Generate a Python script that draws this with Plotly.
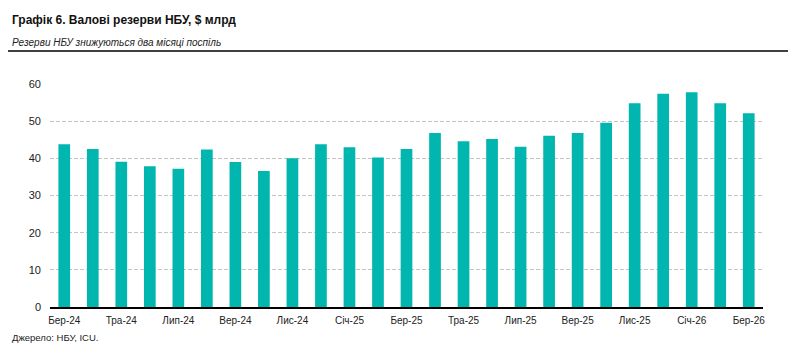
import plotly.graph_objects as go

months = ["Бер-24", "Кві-24", "Тра-24", "Чер-24", "Лип-24", "Сер-24", "Вер-24", "Жов-24",
          "Лис-24", "Гру-24", "Січ-25", "Лют-25", "Бер-25", "Кві-25", "Тра-25", "Чер-25",
          "Лип-25", "Сер-25", "Вер-25", "Жов-25", "Лис-25", "Гру-25", "Січ-26", "Лют-26", "Бер-26"]
reserves = [43.8, 42.5, 39.1, 37.9, 37.2, 42.4, 39.0, 36.6, 40.0, 43.8, 43.0, 40.2,
            42.5, 46.8, 44.6, 45.2, 43.1, 46.1, 46.8, 49.6, 54.8, 57.4, 57.8, 54.8, 52.1]
tick_labels = months[::2]
y_ticks = [0, 10, 20, 30, 40, 50, 60]

title = "Графік 6. Валові резерви НБУ, $ млрд"
subtitle = "Резерви НБУ знижуються два місяці поспіль"
source = "Джерело: НБУ, ICU."

FONT = "Liberation Sans Narrow, Arial Narrow, Liberation Sans, Arial, sans-serif"
OFF = 8  # page body margin
W, H = 796 - OFF, 362 - OFF
# absolute page coordinates of plot area
PL, PR, PT, PB = 50, 763, 84, 307.5
L, R, T, B = PL - OFF, W - (PR - OFF), PT - OFF, H - (PB - OFF)
PW, PH = W - L - R, H - T - B

def px(x):
    return (x - OFF - L) / PW

def py(y):
    return (PB - y) / PH

fig = go.Figure(go.Bar(
    x=list(range(len(months))), y=reserves,
    marker=dict(color="#00b6ae", line=dict(width=0)),
    hoverinfo="y",
))

fig.update_layout(
    width=W, height=H,
    margin=dict(l=L, r=R, t=T, b=B, pad=0),
    paper_bgcolor="white", plot_bgcolor="white",
    bargap=0.59,
    showlegend=False,
    font=dict(family=FONT, size=10, color="#222"),
    xaxis=dict(
        range=[-0.5, len(months) - 0.5],
        tickmode="array",
        tickvals=list(range(0, len(months), 2)),
        ticktext=tick_labels,
        showgrid=False, zeroline=False,
        showline=True, linecolor="black", linewidth=2,
        ticks="", ticklen=0, ticklabelstandoff=3,
        tickfont=dict(family=FONT, size=10, color="#222"),
    ),
    yaxis=dict(
        range=[0, 60],
        tickvals=y_ticks,
        showgrid=True, gridcolor="#c4c4c4", griddash="4px,2px", gridwidth=1,
        zeroline=False, showline=False, ticks="", ticklabelstandoff=8,
        tickfont=dict(family=FONT, size=11, color="#222"),
    ),
    annotations=[
        dict(text="<b>" + title + "</b>", xref="paper", yref="paper",
             x=px(10), y=py(20), xanchor="left", yanchor="middle", showarrow=False,
             font=dict(family=FONT, size=12, color="#111")),
        dict(text="<i>" + subtitle + "</i>", xref="paper", yref="paper",
             x=px(10), y=py(42), xanchor="left", yanchor="middle", showarrow=False,
             font=dict(family=FONT, size=10, color="#222")),
        dict(text=source, xref="paper", yref="paper",
             x=px(10), y=py(338), xanchor="left", yanchor="middle", showarrow=False,
             font=dict(family=FONT, size=9.5, color="#222")),
    ],
    shapes=[
        dict(type="line", xref="paper", yref="paper",
             x0=px(8), x1=px(792), y0=py(51), y1=py(51),
             line=dict(color="black", width=1.5)),
    ],
)

fig.write_html("out.html")
